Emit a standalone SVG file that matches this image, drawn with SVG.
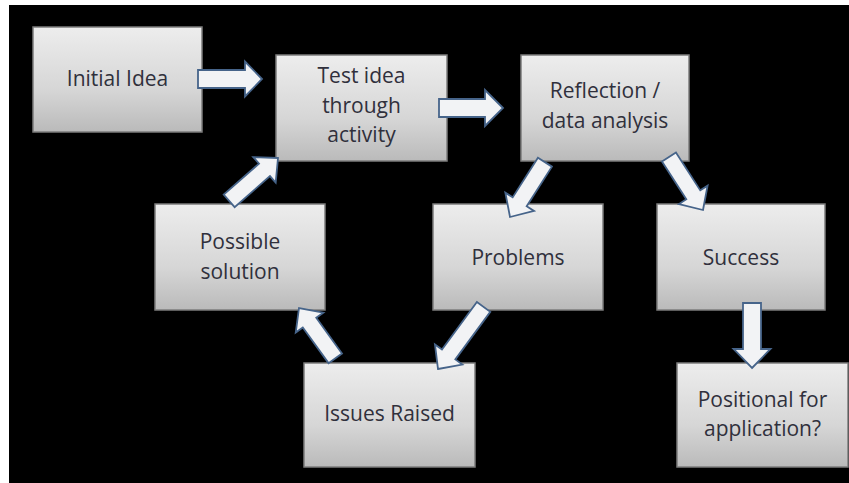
<svg xmlns="http://www.w3.org/2000/svg" width="849" height="483" viewBox="0 0 849 483">
<defs>
<linearGradient id="boxg" x1="0" y1="0" x2="0" y2="1">
<stop offset="0" stop-color="#ededed"/>
<stop offset="0.6" stop-color="#d6d6d6"/>
<stop offset="1" stop-color="#bababa"/>
</linearGradient>
<style>
.box{fill:url(#boxg);stroke:#7c7c7c;stroke-width:1.5}
.lbl{font-family:"Open Sans","Noto Sans","Liberation Sans",sans-serif;font-size:21px;fill:#30303c;text-anchor:middle}
.arr{fill:#f2f3f5;stroke:#46648a;stroke-width:1.8;stroke-linejoin:miter}
</style>
</defs>
<rect x="0" y="0" width="849" height="483" fill="#ffffff"/>
<rect x="9" y="5" width="840" height="478" fill="#000000"/>

<g id="initial-idea"><rect class="box" x="33" y="27" width="169" height="105"/><text class="lbl" x="117.5" y="86">Initial Idea</text></g>
<g id="test-idea"><rect class="box" x="276" y="55" width="171" height="106"/><text class="lbl" x="361.5" y="83">Test idea</text><text class="lbl" x="361.5" y="113">through</text><text class="lbl" x="361.5" y="142">activity</text></g>
<g id="reflection"><rect class="box" x="521" y="55" width="168" height="106"/><text class="lbl" x="605" y="98">Reflection /</text><text class="lbl" x="605" y="128">data analysis</text></g>
<g id="possible-solution"><rect class="box" x="155" y="204" width="170" height="106"/><text class="lbl" x="240" y="249">Possible</text><text class="lbl" x="240" y="279">solution</text></g>
<g id="problems"><rect class="box" x="433" y="204" width="170" height="106"/><text class="lbl" x="518" y="265">Problems</text></g>
<g id="success"><rect class="box" x="657" y="204" width="168" height="106"/><text class="lbl" x="741" y="265">Success</text></g>
<g id="issues-raised"><rect class="box" x="304" y="363" width="171" height="104"/><text class="lbl" x="389.5" y="421">Issues Raised</text></g>
<g id="positional"><rect class="box" x="677" y="363" width="171" height="104"/><text class="lbl" x="762.5" y="407">Positional for</text><text class="lbl" x="762.5" y="436">application?</text></g>

<g id="connectors">
<path class="arr" transform="translate(262,79)" d="M0,0 L-17,-17.5 L-17,-9 L-64,-9 L-64,9 L-17,9 L-17,17.5 Z"/>
<path class="arr" transform="translate(503,108)" d="M0,0 L-18,-18 L-18,-9 L-64,-9 L-64,9 L-18,9 L-18,18 Z"/>
<path class="arr" transform="translate(510,217) rotate(122.5)" d="M0,0 L-18,-17 L-18,-8.3 L-65,-8.3 L-65,8.3 L-18,8.3 L-18,17 Z"/>
<path class="arr" transform="translate(703,210) rotate(57.3)" d="M0,0 L-18,-17 L-18,-8.3 L-63,-8.3 L-63,8.3 L-18,8.3 L-18,17 Z"/>
<path class="arr" transform="translate(438,369) rotate(126.3)" d="M0,0 L-18,-17 L-18,-8.3 L-77,-8.3 L-77,8.3 L-18,8.3 L-18,17 Z"/>
<path class="arr" transform="translate(299,308) rotate(-125.8)" d="M0,0 L-18,-17 L-18,-8.3 L-62,-8.3 L-62,8.3 L-18,8.3 L-18,17 Z"/>
<path class="arr" transform="translate(278,158) rotate(-41.3)" d="M0,0 L-18,-17 L-18,-8.3 L-65,-8.3 L-65,8.3 L-18,8.3 L-18,17 Z"/>
<path class="arr" transform="translate(752,368) rotate(90)" d="M0,0 L-19,-18.5 L-19,-9 L-65,-9 L-65,9 L-19,9 L-19,18.5 Z"/>
</g>
</svg>
